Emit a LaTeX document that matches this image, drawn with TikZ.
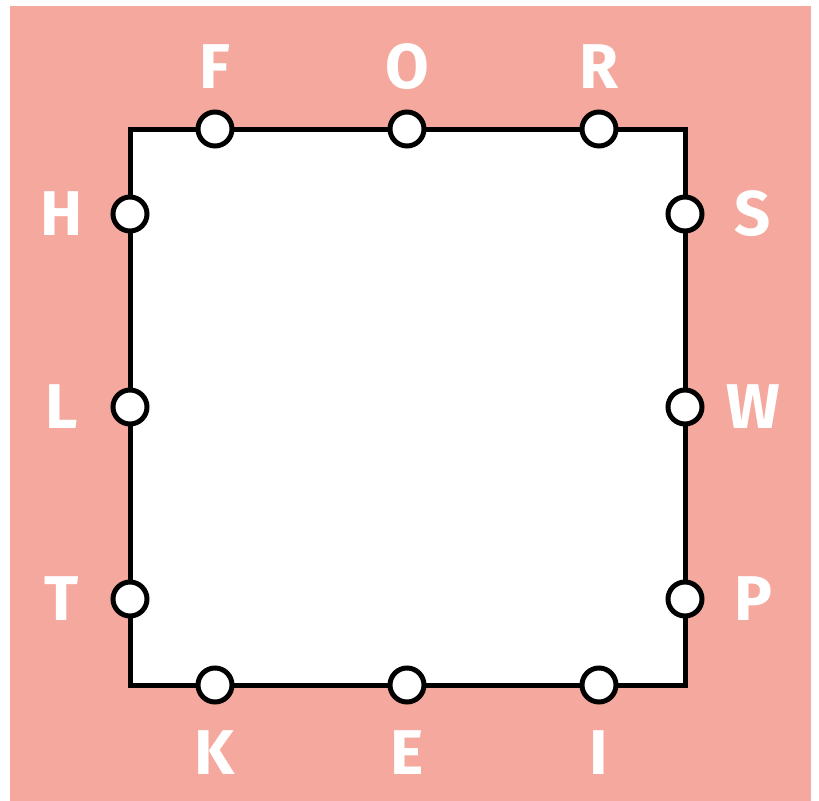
\documentclass[tikz,border=0pt]{standalone}
\usepackage{fontspec}
\setmainfont{Fira Sans}
\usepackage{tikz}
\usetikzlibrary{calc}
\definecolor{bgpink}{RGB}{245,168,158}

\begin{document}
\begin{tikzpicture}[
  x=0.02cm, y=-0.02cm,
  edge/.style = {draw=black, line width=1mm, fill=white, line join=miter},
  port/.style = {
    circle, draw=black, fill=white, line width=1mm,
    minimum size=6.8mm, inner sep=0pt
  },
  lbl/.style = {text=white, font=\fontsize{36}{40}\selectfont\bfseries, inner sep=0pt}
]
  \useasboundingbox (0,0) rectangle (819,801);
  \fill[bgpink] (10,6) rectangle (811,801);

  % square frame
  \coordinate (nw) at (130,129);
  \coordinate (ne) at (685,129);
  \coordinate (se) at (685,685);
  \coordinate (sw) at (130,685);
  \draw[edge] (nw) -- (ne) -- (se) -- (sw) -- cycle;

  % ports on the four sides
  \node[port] (f) at (215,129) {};
  \node[port] (o) at (407,129) {};
  \node[port] (r) at (599,129) {};
  \node[port] (h) at (130,214) {};
  \node[port] (l) at (130,407) {};
  \node[port] (t) at (130,599) {};
  \node[port] (s) at (685,214) {};
  \node[port] (w) at (685,407) {};
  \node[port] (p) at (685,599) {};
  \node[port] (k) at (215,685) {};
  \node[port] (e) at (407,685) {};
  \node[port] (i) at (599,685) {};

  % letters
  \node[lbl] at ($(f)+(0,-62)$) {F};
  \node[lbl] at ($(o)+(0,-62)$) {O};
  \node[lbl] at ($(r)+(0,-62)$) {R};
  \node[lbl] at ($(h)+(-68,0)$) {H};
  \node[lbl] at ($(l)+(-68,0)$) {L};
  \node[lbl] at ($(t)+(-68,0)$) {T};
  \node[lbl] at ($(s)+(68,0)$) {S};
  \node[lbl] at ($(w)+(68,0)$) {W};
  \node[lbl] at ($(p)+(68,0)$) {P};
  \node[lbl] at ($(k)+(0,68)$) {K};
  \node[lbl] at ($(e)+(0,68)$) {E};
  \node[lbl] at ($(i)+(0,68)$) {I};
\end{tikzpicture}
\end{document}
